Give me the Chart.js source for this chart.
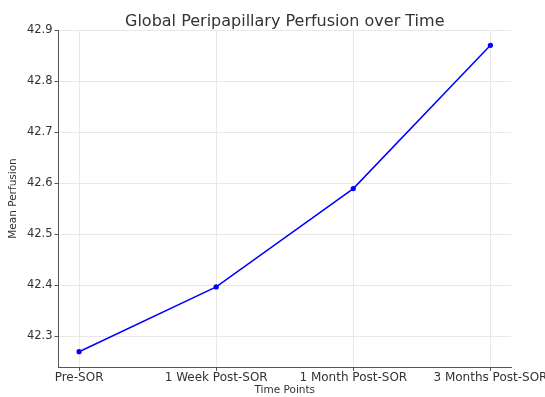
<!DOCTYPE html>
<html>
<head>
<meta charset="utf-8">
<script src="https://cdn.jsdelivr.net/npm/chart.js@4/dist/chart.umd.min.js"></script>
<style>
  html, body { margin: 0; padding: 0; background: #ffffff; }
  #wrap { width: 545px; height: 397px; position: relative; }
</style>
</head>
<body>
<div id="wrap"><canvas id="c" width="545" height="397"></canvas></div>
<script>
const categories = ["Pre-SOR", "1 Week Post-SOR", "1 Month Post-SOR", "3 Months Post-SOR"];
const meanPerfusion = [42.270, 42.397, 42.590, 42.871];
const yTicks = [42.3, 42.4, 42.5, 42.6, 42.7, 42.8, 42.9];
const yMin = 42.240;
const yMax = 42.901;

const FONT = "'DejaVu Sans', sans-serif";
const points = categories.map((c, i) => ({ x: i, y: meanPerfusion[i] }));

// Center the title over the plot area (as matplotlib does)
const centerTitleOnPlot = {
  id: 'centerTitleOnPlot',
  afterLayout(chart) {
    const tb = chart.titleBlock;
    if (tb && chart.chartArea) {
      tb.left = chart.chartArea.left;
      tb.right = chart.chartArea.right;
      tb.width = tb.right - tb.left;
    }
  }
};

new Chart(document.getElementById('c'), {
  type: 'line',
  data: {
    datasets: [{
      label: 'Mean Perfusion',
      data: points,
      borderColor: '#0000ff',
      backgroundColor: '#0000ff',
      borderWidth: 1.5,
      pointRadius: 2.6,
      pointBackgroundColor: '#0000ff',
      pointBorderWidth: 0,
      tension: 0,
      fill: false
    }]
  },
  plugins: [centerTitleOnPlot],
  options: {
    responsive: false,
    animation: false,
    devicePixelRatio: 1,
    layout: { padding: { left: 0, right: 34, top: 0, bottom: 0 } },
    plugins: {
      legend: { display: false },
      tooltip: { enabled: false },
      title: {
        display: true,
        text: 'Global Peripapillary Perfusion over Time',
        color: '#333333',
        font: { family: FONT, size: 16, weight: 'normal' },
        padding: { top: 12, bottom: -1.2 }
      }
    },
    scales: {
      x: {
        type: 'linear',
        min: -0.15,
        max: 3.15,
        afterBuildTicks: (s) => { s.ticks = categories.map((c, i) => ({ value: i })); },
        afterFit: (s) => { s.height = 30; s.paddingLeft = 0; s.paddingRight = 0; },
        ticks: {
          callback: (v) => categories[v],
          color: '#333333',
          font: { family: FONT, size: 12 },
          padding: 0,
          maxRotation: 0,
          autoSkip: false
        },
        grid: { color: '#e8e8e8', lineWidth: 1, tickColor: '#555555', tickLength: 4 },
        border: { display: true, color: '#555555', width: 1 },
        title: {
          display: true,
          text: 'Time Points',
          color: '#333333',
          font: { family: FONT, size: 10.5 },
          padding: { top: 0, bottom: 0 }
        }
      },
      y: {
        type: 'linear',
        min: yMin,
        max: yMax,
        afterBuildTicks: (s) => { s.ticks = yTicks.map(v => ({ value: v })); },
        afterFit: (s) => { s.width = 58.5; s.paddingTop = 0; s.paddingBottom = 0; },
        ticks: {
          callback: (v) => v.toFixed(1),
          color: '#333333',
          font: { family: FONT, size: 11.5 },
          padding: 2
        },
        grid: { color: '#e8e8e8', lineWidth: 1, tickColor: '#555555', tickLength: 4 },
        border: { display: true, color: '#555555', width: 1 },
        title: {
          display: true,
          text: 'Mean Perfusion',
          color: '#333333',
          font: { family: FONT, size: 10.5 },
          padding: { top: 7, bottom: 0 }
        }
      }
    }
  }
});
</script>
</body>
</html>
